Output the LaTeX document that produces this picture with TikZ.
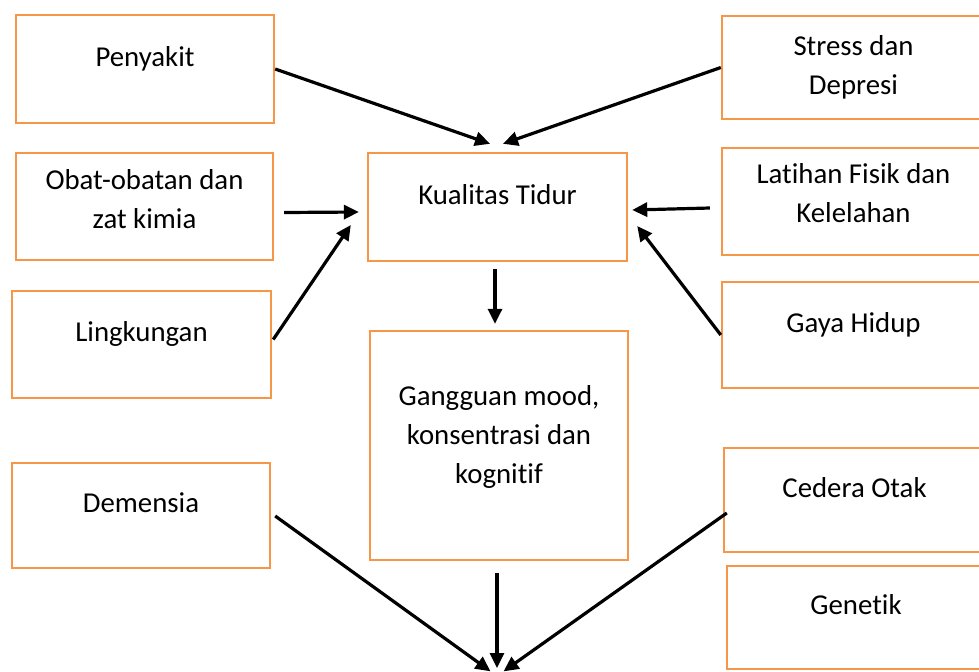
\documentclass[tikz,border=0pt]{standalone}
\usepackage{fontspec}
\setmainfont[Ligatures=NoCommon]{Carlito}
\usetikzlibrary{arrows.meta, positioning, calc}
\definecolor{boxorange}{RGB}{247, 150, 70}

\begin{document}
\begin{tikzpicture}[x=0.5pt, y=-0.5pt, font=\fontsize{14.4}{19.5}\selectfont]
            \tikzstyle{block} = [rectangle, draw=boxorange, line width=1.2pt, minimum width=129pt, minimum height=54pt, align=center]
            \tikzstyle{oneline} = [text height=10pt, text depth=13pt]
            \tikzstyle{arrow} = [line width=1.6pt, -{Triangle[length=7.5pt, width=7pt]}]

            \clip (0,0) rectangle (979,671);

            % left column
            \node[block, oneline] (penyakit) at (145,69) {Penyakit};
            \node[block, minimum width=128.5pt, minimum height=53.5pt, text depth=8pt] (obat) at (144.5,206.5) {Obat-obatan dan\\zat kimia};
            \node[block, oneline, minimum width=129.5pt, minimum height=53.5pt] (lingkungan) at (141.5,344.5) {Lingkungan};
            \node[block, oneline, minimum height=52.5pt] (demensia) at (141,515.5) {Demensia};

            % middle column
            \node[block, oneline, minimum width=129.5pt] (kualitas) at (497.5,207) {Kualitas Tidur};
            \node[block, minimum height=114.5pt, text depth=11pt] (gangguan) at (499,445.5) {Gangguan mood,\\konsentrasi dan\\kognitif};

            % right column
            \node[block, minimum width=131.5pt, minimum height=51.5pt] (stress) at (853.5,67.5) {Stress dan\\Depresi};
            \node[block, minimum width=131.5pt, minimum height=53.5pt, text depth=9pt] (latihan) at (853.5,201.5) {Latihan Fisik dan\\Kelelahan};
            \node[block, oneline, minimum width=131.5pt, minimum height=53pt] (gaya) at (853.5,335) {Gaya Hidup};
            \node[block, oneline, minimum width=130.5pt, minimum height=52pt] (cedera) at (854.5,500) {Cedera Otak};
            \node[block, oneline, minimum height=51.5pt] (genetik) at (856,617.5) {Genetik};

            \coordinate (sink) at (497,676);

            \draw[arrow] (penyakit.east) -- ($(kualitas.north)+(-7.5,-8)$);
            \draw[arrow] (stress.west) -- ($(kualitas.north)+(5.5,-8)$);
            \draw[arrow] ($(obat.east)+(10,6)$) -- ($(kualitas.west)+(-8,5)$);
            \draw[arrow] ($(lingkungan.east)+(1,-5)$) -- ($(kualitas.west)+(-16,18)$);
            \draw[arrow] ($(latihan.west)+(-11,6.5)$) -- ($(kualitas.east)+(4,3)$);
            \draw[arrow] (gaya.west) -- ($(kualitas.east)+(9,19)$);
            \draw[arrow] ($(kualitas.south)+(-2.5,7)$) -- ($(gangguan.north)+(-4,-6)$);
            \draw[arrow, shorten >=4pt] ($(gangguan.south)+(-2,12)$) -- (sink);
            \draw[arrow, shorten >=4pt] ($(demensia.east)+(4,0.5)$) -- (sink);
            \draw[arrow, shorten >=4pt] ($(cedera.west)+(4,13)$) -- (sink);
        \end{tikzpicture}
\end{document}
